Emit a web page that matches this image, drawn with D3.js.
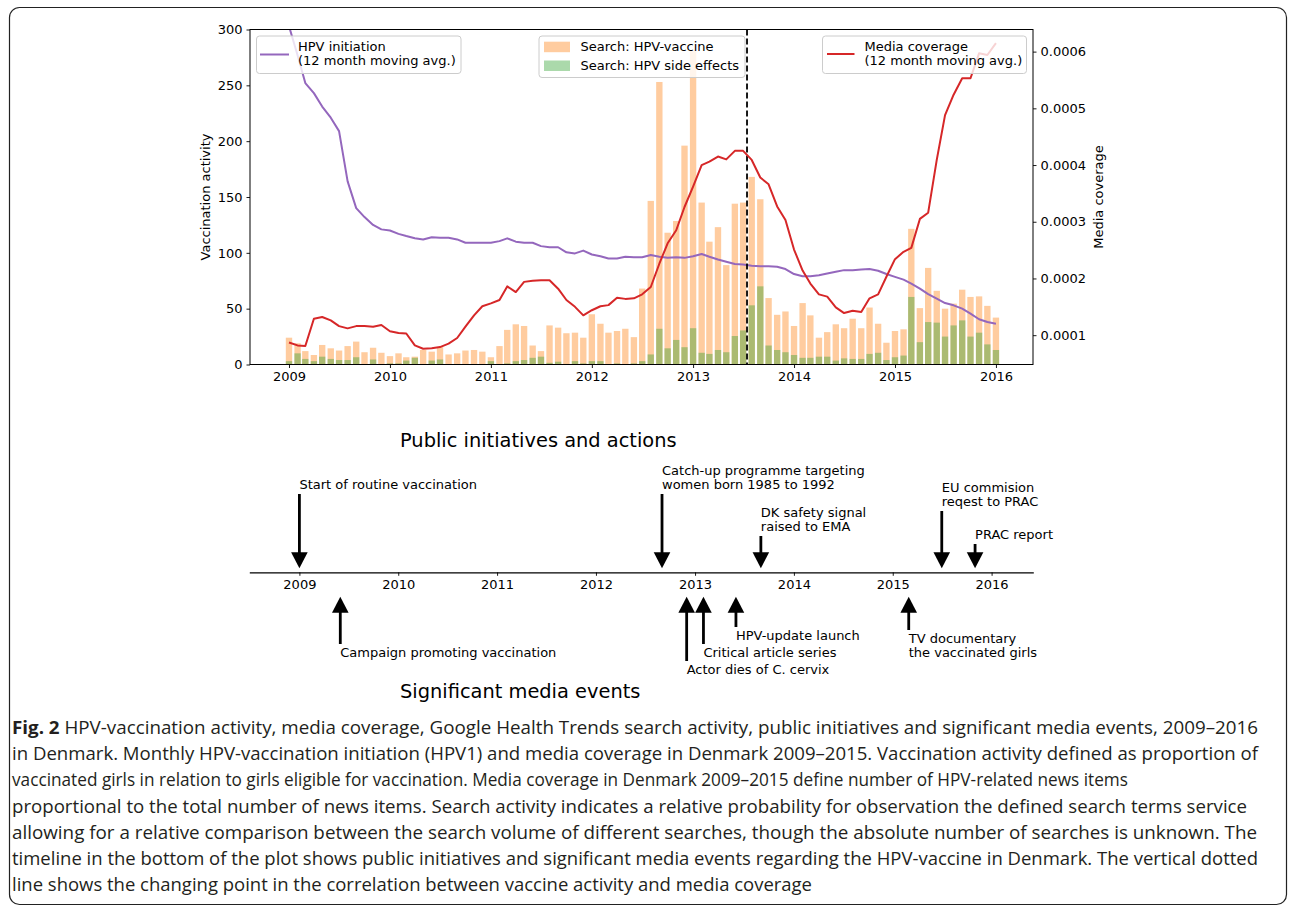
<!DOCTYPE html>
<html>
<head>
<meta charset="utf-8">
<script src="https://cdn.jsdelivr.net/npm/d3@7"></script>
<style>
  body { margin: 0; background: #fff; }
  svg { display: block; }
</style>
</head>
<body>
<svg id="fig" width="1292" height="906"></svg>
<script>
// ---- data ----
const months = d3.utcMonths(new Date(Date.UTC(2009, 0, 1)), new Date(Date.UTC(2016, 0, 2)));

const searchVaccine = [
  24, 19, 12, 8.5, 17.5, 14.5, 12.5, 16.5, 20.5, 11, 15, 10.5,
  7.5, 10, 6.5, 7, 13, 11.5, 15.5, 9, 10, 12.5, 13, 11.5,
  6.5, 16.5, 31, 36, 34.5, 17, 12, 35, 33, 28, 28.5, 24,
  45, 36.5, 28.5, 30, 32, 24.5, 68, 146.5, 253, 118, 128.5, 196,
  281, 145, 110, 123, 89, 144, 145, 168, 148, 59.5, 44.5, 47.5,
  34.5, 55, 44, 24, 29, 36, 32.5, 41, 32.5, 51, 36.5, 19.5,
  30, 31.5, 121.5, 50.5, 86.5, 66, 50, 54.5, 67, 60.5, 61, 52.5,
  42
];
const searchSideEffects = [
  3, 10, 5, 3, 7, 5, 4, 4, 6.5, 0, 4.5, 0,
  1, 1, 3.5, 6, 0, 3.5, 4.5, 0, 0, 0, 0, 0,
  3, 0, 1, 3, 4, 6, 7, 1.5, 2.5, 0.5, 3, 1,
  3, 3, 0, 1, 0, 1, 3, 9, 32, 14.5, 22, 15.5,
  32.5, 10.5, 9.5, 13, 11, 25.5, 30.5, 53, 70, 17, 13, 11,
  8.5, 6, 6, 7, 7, 3.5, 5.5, 5, 5, 9.5, 10.5, 4,
  6.5, 8, 60.5, 20, 38, 37.5, 25, 35, 39.5, 25, 28.5, 18,
  13
];
const hpvInitiation = [
  303, 277, 252, 243, 231, 221, 209, 164, 140, 132, 125, 121,
  120, 117, 115, 113, 112, 114, 113.5, 113.5, 112, 109, 109, 109,
  109, 110.5, 113, 110, 109, 109, 106, 105, 105, 100.5, 99.5, 102,
  98.5, 97, 95, 95, 96.5, 96, 96, 98, 96.5, 95.5, 96, 95.5,
  97, 99, 96.5, 94, 92, 90, 89.5, 88.5, 88, 88, 87.5, 85.5,
  81, 79, 79, 80, 81.5, 83, 84.5, 84.5, 85, 85.5, 84, 81,
  78.5, 76, 72.5, 68, 63, 59, 55, 53, 50, 45.5, 40.5, 38,
  36.5
];
const mediaCoverage = [
  0.000087, 0.000082, 0.000081, 0.000129, 0.000132, 0.000126, 0.000116, 0.000112, 0.000116, 0.000116, 0.000115, 0.000118,
  0.000107, 0.000104, 0.000103, 0.000082, 0.000076, 0.000077, 0.000079, 0.000085, 0.000095, 0.000115, 0.000135, 0.000151,
  0.000156, 0.000162, 0.000186, 0.000176, 0.000194, 0.000196, 0.000197, 0.000197, 0.000182, 0.000162, 0.000150, 0.000135,
  0.000144, 0.000151, 0.000153, 0.000166, 0.000164, 0.000165, 0.000172, 0.000185, 0.000226, 0.000262, 0.000285, 0.000326,
  0.000362, 0.000400, 0.000406, 0.000415, 0.000410, 0.000425, 0.000425, 0.000409, 0.000378, 0.000366, 0.000327, 0.000303,
  0.000251, 0.000214, 0.000191, 0.000172, 0.000168, 0.000149, 0.000139, 0.000143, 0.000141, 0.000165, 0.000172, 0.000203,
  0.000234, 0.000247, 0.000254, 0.000305, 0.000316, 0.000409, 0.000488, 0.000524, 0.000553, 0.000553, 0.000597, 0.000594,
  0.000615
];
const changePoint = new Date(Date.UTC(2013, 6, 15));

const yearTicks = [2009, 2010, 2011, 2012, 2013, 2014, 2015, 2016];
const leftTicks = [0, 50, 100, 150, 200, 250, 300];
const rightTicks = [0.0001, 0.0002, 0.0003, 0.0004, 0.0005, 0.0006];

const publicDates = ['2009-01-01', '2012-09-01', '2013-09-01', '2015-07-01', '2015-11-01'];
const publicLabels = [
  ['Start of routine vaccination'],
  ['Catch-up programme targeting', 'women born 1985 to 1992'],
  ['DK safety signal', 'raised to EMA'],
  ['EU commision', 'reqest to PRAC'],
  ['PRAC report']
];
const mediaDates = ['2009-06-01', '2012-12-01', '2013-02-01', '2013-06-01', '2015-03-01'];
const mediaLabels = [
  ['Campaign promoting vaccination'],
  ['Actor dies of C. cervix'],
  ['Critical article series'],
  ['HPV-update launch'],
  ['TV documentary', 'the vaccinated girls']
];

const captionLines = [
  'HPV-vaccination activity, media coverage, Google Health Trends search activity, public initiatives and significant media events, 2009\u20132016',
  'in Denmark. Monthly HPV-vaccination initiation (HPV1) and media coverage in Denmark 2009\u20132015. Vaccination activity defined as proportion of',
  'vaccinated girls in relation to girls eligible for vaccination. Media coverage in Denmark 2009\u20132015 define number of HPV-related news items',
  'proportional to the total number of news items. Search activity indicates a relative probability for observation the defined search terms service',
  'allowing for a relative comparison between the search volume of different searches, though the absolute number of searches is unknown. The',
  'timeline in the bottom of the plot shows public initiatives and significant media events regarding the HPV-vaccine in Denmark. The vertical dotted',
  'line shows the changing point in the correlation between vaccine activity and media coverage'
];

// ---- layout ----
const FONT = 'DejaVu Sans, sans-serif';
const plot = { left: 250, right: 1033, top: 29.5, bottom: 364.5 };
const publicTail = [494, 494, 536, 511, 544];   // y where each top arrow starts
const mediaTail = [644, 661, 644, 627, 630];    // y where each bottom arrow ends
const captionEnds = [1258, 1258, 1128, 1247, 1257, 1258, 812];

const svg = d3.select('#fig');
svg.append('rect').attr('width', 1292).attr('height', 906).attr('fill', '#fff');

// figure frame
svg.append('rect')
  .attr('x', 9.5).attr('y', 7.5)
  .attr('width', 1277).attr('height', 897)
  .attr('rx', 10)
  .attr('fill', 'none')
  .attr('stroke', '#222')
  .attr('stroke-width', 1.2);

const parse = d3.utcParse('%Y-%m-%d');
const yearDate = (y) => new Date(Date.UTC(y, 0, 1));

// scales
const x = d3.scaleUtc()
  .domain([new Date(Date.UTC(2008, 7, 13)), new Date(Date.UTC(2016, 4, 14))])
  .range([plot.left, plot.right]);
const yL = d3.scaleLinear().domain([0, 300]).range([plot.bottom, plot.top]);
const yR = d3.scaleLinear().domain([0.0000483, 0.000639]).range([plot.bottom, plot.top]);

svg.append('clipPath').attr('id', 'clip')
  .append('rect')
  .attr('x', plot.left).attr('y', plot.top)
  .attr('width', plot.right - plot.left).attr('height', plot.bottom - plot.top);

const chart = svg.append('g').attr('clip-path', 'url(#clip)');

// bars
const barW = (d) => x(d3.utcDay.offset(d, 23)) - x(d);
const bars = months.map((d, i) => ({ date: d, vac: searchVaccine[i], side: searchSideEffects[i] }));

chart.append('g').selectAll('rect')
  .data(bars)
  .join('rect')
  .attr('x', (d) => x(d.date) - barW(d.date) / 2)
  .attr('width', (d) => barW(d.date))
  .attr('y', (d) => yL(d.vac))
  .attr('height', (d) => yL(0) - yL(d.vac))
  .attr('fill', '#ff7f0e')
  .attr('fill-opacity', 0.4);

chart.append('g').selectAll('rect')
  .data(bars)
  .join('rect')
  .attr('x', (d) => x(d.date) - barW(d.date) / 2)
  .attr('width', (d) => barW(d.date))
  .attr('y', (d) => yL(d.side))
  .attr('height', (d) => yL(0) - yL(d.side))
  .attr('fill', '#2ca02c')
  .attr('fill-opacity', 0.4);

// HPV initiation line
chart.append('path')
  .datum(months.map((d, i) => [d, hpvInitiation[i]]))
  .attr('fill', 'none')
  .attr('stroke', '#9467bd')
  .attr('stroke-width', 2)
  .attr('stroke-linejoin', 'round')
  .attr('d', d3.line().x((d) => x(d[0])).y((d) => yL(d[1])));

// dashed change point
chart.append('line')
  .attr('x1', x(changePoint)).attr('x2', x(changePoint))
  .attr('y1', plot.top).attr('y2', plot.bottom)
  .attr('stroke', '#000')
  .attr('stroke-width', 1.8)
  .attr('stroke-dasharray', '6,3');

// media coverage line
chart.append('path')
  .datum(months.map((d, i) => [d, mediaCoverage[i]]))
  .attr('fill', 'none')
  .attr('stroke', '#d62728')
  .attr('stroke-width', 2)
  .attr('stroke-linejoin', 'round')
  .attr('d', d3.line().x((d) => x(d[0])).y((d) => yR(d[1])));

// axes
const styleAxis = (g) => {
  g.select('.domain').remove();
  g.selectAll('line').attr('stroke', '#000').attr('stroke-width', 0.9);
  g.selectAll('text').attr('fill', '#000').style('font-family', FONT).style('font-size', '13px');
};

svg.append('g')
  .attr('transform', `translate(0,${plot.bottom})`)
  .call(d3.axisBottom(x).tickValues(yearTicks.map(yearDate)).tickFormat(d3.utcFormat('%Y')).tickSize(3.5).tickPadding(4))
  .call(styleAxis);

svg.append('g')
  .attr('transform', `translate(${plot.left},0)`)
  .call(d3.axisLeft(yL).tickValues(leftTicks).tickSize(3.5).tickPadding(4))
  .call(styleAxis);

svg.append('g')
  .attr('transform', `translate(${plot.right},0)`)
  .call(d3.axisRight(yR).tickValues(rightTicks).tickFormat(d3.format('.4f')).tickSize(3.5).tickPadding(4))
  .call(styleAxis);

svg.append('rect')
  .attr('x', plot.left).attr('y', plot.top)
  .attr('width', plot.right - plot.left).attr('height', plot.bottom - plot.top)
  .attr('fill', 'none').attr('stroke', '#000').attr('stroke-width', 1);

// axis titles
svg.append('text')
  .attr('transform', `translate(209.5,${(plot.top + plot.bottom) / 2}) rotate(-90)`)
  .attr('text-anchor', 'middle')
  .style('font-family', FONT).style('font-size', '13px')
  .text('Vaccination activity');

svg.append('text')
  .attr('transform', `translate(1102.5,${(plot.top + plot.bottom) / 2}) rotate(-90)`)
  .attr('text-anchor', 'middle')
  .style('font-family', FONT).style('font-size', '13px')
  .text('Media coverage');

// legends
function legendBox(x0, y0, w, h) {
  svg.append('rect')
    .attr('x', x0).attr('y', y0).attr('width', w).attr('height', h)
    .attr('rx', 3)
    .attr('fill', '#fff').attr('fill-opacity', 0.8)
    .attr('stroke', '#ccc').attr('stroke-width', 1);
}
function legendText(x0, y0, lines) {
  const t = svg.append('text')
    .style('font-family', FONT).style('font-size', '13px');
  lines.forEach((s, k) => t.append('tspan').attr('x', x0).attr('y', y0 + k * 14.3).text(s));
}

legendBox(256.5, 36, 204.5, 37.5);
svg.append('line').attr('x1', 260).attr('x2', 289).attr('y1', 54.5).attr('y2', 54.5)
  .attr('stroke', '#9467bd').attr('stroke-width', 2);
legendText(298, 50.7, ['HPV initiation', '(12 month moving avg.)']);

legendBox(539, 36, 206, 41.5);
svg.append('rect').attr('x', 544).attr('y', 41.7).attr('width', 26).attr('height', 10.5)
  .attr('fill', '#ff7f0e').attr('fill-opacity', 0.4);
svg.append('rect').attr('x', 544).attr('y', 60.5).attr('width', 26).attr('height', 10.5)
  .attr('fill', '#2ca02c').attr('fill-opacity', 0.4);
legendText(580.5, 51.4, ['Search: HPV-vaccine']);
legendText(580.5, 70, ['Search: HPV side effects']);

legendBox(822.5, 36, 204, 37.5);
svg.append('line').attr('x1', 827).attr('x2', 854.5).attr('y1', 54).attr('y2', 54)
  .attr('stroke', '#d62728').attr('stroke-width', 2);
legendText(864.5, 50.7, ['Media coverage', '(12 month moving avg.)']);

// ---- timeline ----
const lineY = 572.3;
const xT = d3.scaleUtc()
  .domain([new Date(Date.UTC(2008, 5, 30)), new Date(Date.UTC(2016, 5, 3))])
  .range([249.3, 1033.3]);

svg.append('g')
  .attr('transform', `translate(0,${lineY})`)
  .call(d3.axisBottom(xT).tickValues(yearTicks.map(yearDate)).tickFormat(d3.utcFormat('%Y')).tickSize(3.5).tickSizeOuter(0).tickPadding(4))
  .call((g) => {
    g.select('.domain').attr('stroke', '#000').attr('stroke-width', 1.2);
    g.selectAll('line').attr('stroke', '#000').attr('stroke-width', 0.9);
    g.selectAll('text').attr('fill', '#000').style('font-family', FONT).style('font-size', '13px');
  });

function arrow(xp, yTail, yTip) {
  const dir = yTip > yTail ? 1 : -1;
  const headLen = 16, halfW = 8.3;
  const base = yTip - dir * headLen;
  svg.append('line')
    .attr('x1', xp).attr('x2', xp).attr('y1', yTail).attr('y2', base + dir * 1)
    .attr('stroke', '#000').attr('stroke-width', 2.8);
  svg.append('path')
    .attr('d', `M${xp - halfW},${base}L${xp + halfW},${base}L${xp},${yTip}Z`)
    .attr('fill', '#000');
}

publicDates.forEach((ds, i) => {
  const xp = xT(parse(ds));
  arrow(xp, publicTail[i], 568.3);
  const lines = publicLabels[i];
  const t = svg.append('text').style('font-family', FONT).style('font-size', '13px');
  lines.forEach((s, k) => t.append('tspan')
    .attr('x', xp)
    .attr('y', publicTail[i] - 5 - (lines.length - 1 - k) * 14.3)
    .text(s));
});

mediaDates.forEach((ds, i) => {
  const xp = xT(parse(ds));
  arrow(xp, mediaTail[i], 596.7);
  const lines = mediaLabels[i];
  const t = svg.append('text').style('font-family', FONT).style('font-size', '13px');
  lines.forEach((s, k) => t.append('tspan')
    .attr('x', xp)
    .attr('y', mediaTail[i] + 12.5 + k * 14.3)
    .text(s));
});

svg.append('text')
  .attr('x', 400).attr('y', 447)
  .style('font-family', FONT).style('font-size', '19.4px')
  .text('Public initiatives and actions');
svg.append('text')
  .attr('x', 400).attr('y', 698)
  .style('font-family', FONT).style('font-size', '19.4px')
  .text('Significant media events');

// ---- caption ----
const cap = svg.append('g')
  .style('font-family', "'Liberation Sans Narrow', 'Open Sans', sans-serif")
  .style('font-size', '18.5px')
  .attr('fill', '#231f20');

captionLines.forEach((s, k) => {
  const t = cap.append('text')
    .attr('x', 12)
    .attr('y', 734 + k * 26.2)
    .attr('textLength', captionEnds[k] - 12)
    .attr('lengthAdjust', 'spacingAndGlyphs');
  if (k === 0) {
    t.append('tspan').style('font-weight', 'bold').text('Fig. 2 ');
  }
  t.append('tspan').text(s);
});
</script>
</body>
</html>
